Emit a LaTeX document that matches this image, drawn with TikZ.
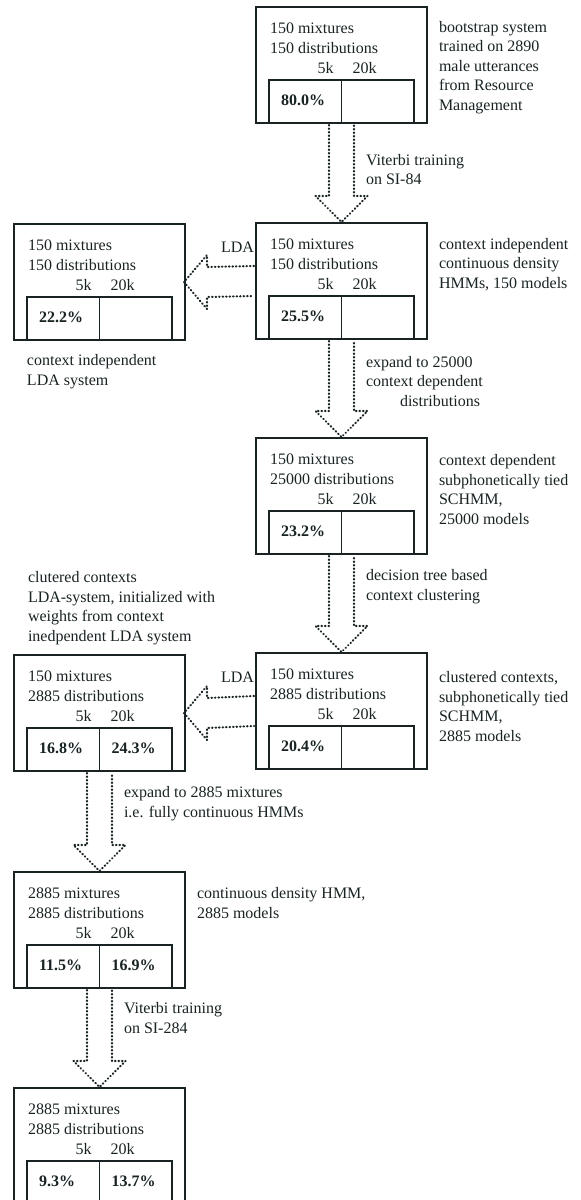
\documentclass[tikz,border=0pt]{standalone}
\usepackage{fontspec}
\setmainfont{Liberation Serif}
\usetikzlibrary{calc}
\definecolor{ink}{RGB}{25,35,35}
\tikzset{
  sbox/.style={draw=ink, line width=1.6pt, rectangle, minimum width=171pt, minimum height=116pt, inner sep=0pt, outer sep=0pt},
  cell/.style={draw=ink, line width=1.6pt, rectangle, minimum width=72.5pt, minimum height=43pt, inner sep=0pt, outer sep=0pt},
  txt/.style={text=ink, font=\fontsize{16}{19.5}\selectfont, inner sep=0pt, outer sep=0pt, align=left},
  pct/.style={text=ink, font=\fontsize{16}{19.5}\selectfont\bfseries, inner sep=0pt, outer sep=0pt},
  dotln/.style={draw=ink, line width=2.1pt, line cap=round, line join=round, dash pattern=on 0.6pt off 2.9pt},
}
% name, left, top, line1, line2, 5k value, 20k value
\newcommand\sysbox[7]{%
  \node[sbox] (#1) at (#2+85.5,-#3-58) {};
  \node[cell, anchor=south west] (#1-a) at ($(#1.south west)+(13,0)$) {};
  \node[cell, anchor=south west] (#1-b) at (#1-a.south east) {};
  \node[txt, anchor=base west] (#1-t) at ($(#1.north west)+(14,-46)$) {#4\\#5};
  \node[txt, anchor=base east] (#1-k5) at ($(#1-a.north east)+(-8,6.5)$) {5k};
  \node[txt, anchor=base west] (#1-k20) at ($(#1-a.north east)+(11,6.5)$) {20k};
  \node[pct, anchor=base west] (#1-p) at ($(#1-a.north west)+(12,-25)$) {#6};
  \node[pct, anchor=base west] (#1-q) at ($(#1-b.north west)+(12,-25)$) {#7};
}
% vertical hollow dotted arrow from box #1 down to box #2
\newcommand\vconn[2]{%
  \draw[dotln] ($(#1.south)+(-12.5,-2)$) -- ($(#2.north)+(-12.5,27)$) -- ($(#2.north)+(-26,27)$)
    -- ($(#2.north)+(0,1)$) -- ($(#2.north)+(26,27)$) -- ($(#2.north)+(12.5,27)$) -- ($(#1.south)+(12.5,-2)$);
}
% horizontal hollow dotted arrow from box #1 (right) to box #2 (left)
\newcommand\hconn[2]{%
  \draw[dotln] ($(#1.west)+(-2,15)$) -- ($(#2.east)+(22,15)$) -- ($(#2.east)+(22,27)$)
    -- ($(#2.east)+(-1,0)$) -- ($(#2.east)+(22,-27)$) -- ($(#2.east)+(22,-15)$) -- ($(#1.west)+(-2,-15)$);
}
\begin{document}
\begin{tikzpicture}[x=1pt,y=1pt]
\clip (0,0) rectangle (581,-1200);
\fill[white] (0,0) rectangle (581,-1200);

\sysbox{b1}{256}{7}{150 mixtures}{150 distributions}{80.0\%}{}
\sysbox{b2}{256}{223}{150 mixtures}{150 distributions}{25.5\%}{}
\sysbox{b2l}{14}{224}{150 mixtures}{150 distributions}{22.2\%}{}
\sysbox{b3}{256}{438}{150 mixtures}{25000 distributions}{23.2\%}{}
\sysbox{b4}{256}{653}{150 mixtures}{2885 distributions}{20.4\%}{}
\sysbox{b4l}{14}{655}{150 mixtures}{2885 distributions}{16.8\%}{24.3\%}
\sysbox{b5}{14}{872}{2885 mixtures}{2885 distributions}{11.5\%}{16.9\%}
\sysbox{b6}{14}{1088}{2885 mixtures}{2885 distributions}{9.3\%}{13.7\%}

\vconn{b1}{b2}
\hconn{b2}{b2l}
\vconn{b2}{b3}
\vconn{b3}{b4}
\hconn{b4}{b4l}
\vconn{b4l}{b5}
\vconn{b5}{b6}

% multi-line nodes: anchor on the baseline of the last line
\node[txt, anchor=base west] (n1) at (439,-110) {bootstrap system\\trained on 2890\\male utterances\\from Resource\\Management};
\node[txt, anchor=base west] (l1) at (366,-184.5) {Viterbi training\\on SI-84};
\node[txt, anchor=base west] (n2) at (439,-288) {context independent\\continuous density\\HMMs, 150 models};
\node[txt, anchor=base east] (lda1) at (254,-252) {LDA};
\node[txt, anchor=base west] (n2l) at (27,-385) {context independent\\LDA system};
\node[txt, anchor=base west] (l2) at (366,-406) {expand to 25000\\context dependent\\\hspace*{34pt}distributions};
\node[txt, anchor=base west] (n3) at (439,-524) {context dependent\\subphonetically tied\\SCHMM,\\25000 models};
\node[txt, anchor=base west] (l3) at (366,-600) {decision tree based\\context clustering};
\node[txt, anchor=base west] (n4l) at (28,-641) {clutered contexts\\LDA-system, initialized with\\weights from context\\inedpendent LDA system};
\node[txt, anchor=base west] (n4) at (439,-741) {clustered contexts,\\subphonetically tied\\SCHMM,\\2885 models};
\node[txt, anchor=base east] (lda2) at (254,-682) {LDA};
\node[txt, anchor=base west] (l5) at (124,-817) {expand to 2885 mixtures\\i.e. fully continuous HMMs};
\node[txt, anchor=base west] (n5) at (197,-918) {continuous density HMM,\\2885 models};
\node[txt, anchor=base west] (l6) at (124,-1033) {Viterbi training\\on SI-284};
\end{tikzpicture}
\end{document}
